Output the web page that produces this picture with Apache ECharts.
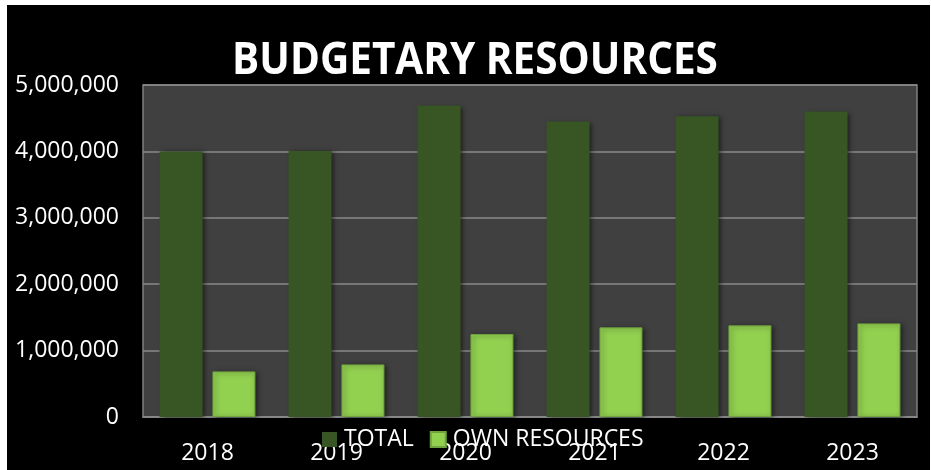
<!DOCTYPE html>
<html>
<head>
<meta charset="utf-8">
<title>Budgetary Resources</title>
<script src="https://cdn.jsdelivr.net/npm/echarts@6/dist/echarts.min.js"></script>
<style>
  html, body { margin: 0; padding: 0; background: #ffffff; }
  #chart { position: absolute; left: 7px; top: 5px; width: 923px; height: 465px; }
</style>
</head>
<body>
<div id="chart"></div>
<script>
// Fiscal years shown on the category axis
const years = ['2018', '2019', '2020', '2021', '2022', '2023'];
// Total budgetary resources per year
const totalResources = [4000000, 4005000, 4690000, 4450000, 4530000, 4600000];
// Portion coming from own resources
const ownResources = [687000, 792000, 1250000, 1350000, 1380000, 1410000];
// Series names used in the legend
const seriesNames = ['TOTAL', 'OWN RESOURCES'];
const chartTitle = 'BUDGETARY RESOURCES';

const labelFont = "'Open Sans', 'Noto Sans', sans-serif";

const chart = echarts.init(document.getElementById('chart'), null, { renderer: 'canvas' });

const barShadow = {
  shadowBlur: 5,
  shadowOffsetX: 2,
  shadowOffsetY: 1,
  shadowColor: 'rgba(0,0,0,0.55)'
};

chart.setOption({
  backgroundColor: '#000000',
  animation: false,
  // Title drawn as a slightly condensed bold heading
  graphic: [{
    type: 'text',
    x: 468,
    y: 56,
    scaleX: 0.9,
    style: {
      text: chartTitle,
      fill: '#ffffff',
      font: "bold 45px 'Open Sans', 'Noto Sans', sans-serif",
      textAlign: 'center',
      textVerticalAlign: 'middle'
    }
  }],
  legend: {
    data: seriesNames,
    left: 310,
    top: 418,
    itemWidth: 15,
    itemHeight: 15,
    itemGap: 16,
    icon: 'rect',
    textStyle: {
      color: '#ffffff',
      fontFamily: labelFont,
      fontSize: 23,
      padding: [0, 0, 0, 2]
    }
  },
  grid: {
    left: 136,
    right: 13,
    top: 80,
    bottom: 53,
    show: true,
    backgroundColor: '#404040',
    borderColor: '#7f7f7f',
    borderWidth: 1.5
  },
  xAxis: {
    type: 'category',
    data: years,
    axisTick: { show: false },
    axisLine: { lineStyle: { color: '#8a8a8a', width: 1.5 } },
    axisLabel: {
      color: '#ffffff',
      fontFamily: labelFont,
      fontSize: 23,
      margin: 25
    }
  },
  yAxis: {
    type: 'value',
    min: 0,
    max: 5000000,
    interval: 1000000,
    axisLine: { show: false },
    axisTick: { show: false },
    splitLine: { lineStyle: { color: '#8a8a8a', width: 1.5 } },
    axisLabel: {
      color: '#ffffff',
      fontFamily: labelFont,
      fontSize: 23,
      margin: 24,
      formatter: v => v.toLocaleString('en-US')
    }
  },
  series: [
    {
      name: seriesNames[0],
      type: 'bar',
      data: totalResources,
      barWidth: 43,
      barGap: '23%',
      itemStyle: Object.assign({ color: '#375623' }, barShadow)
    },
    {
      name: seriesNames[1],
      type: 'bar',
      data: ownResources,
      barWidth: 43,
      itemStyle: Object.assign({
        color: '#92d050',
        borderColor: '#6ea33e',
        borderWidth: 1
      }, barShadow)
    }
  ]
});
</script>
</body>
</html>
